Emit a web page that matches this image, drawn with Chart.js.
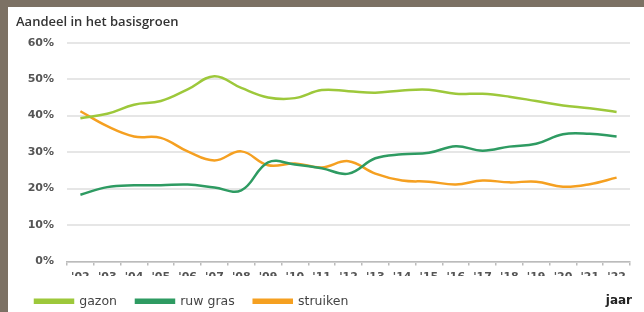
<!DOCTYPE html>
<html>
<head>
<meta charset="utf-8">
<script src="https://cdn.jsdelivr.net/npm/chart.js@4.4.1/dist/chart.umd.min.js"></script>
<style>
  html, body { margin: 0; padding: 0; }
  body { width: 644px; height: 312px; background: #7c7164; overflow: hidden; position: relative; }
  #box { position: absolute; left: 8px; top: 7px; width: 636px; height: 305px; background: #fff; }
</style>
</head>
<body>
<div id="box"><canvas id="lineChart" width="636" height="305"></canvas></div>
<script>
// Aandeel in het basisgroen, 2002 - 2022
var years = ["'02", "'03", "'04", "'05", "'06", "'07", "'08", "'09", "'10", "'11", "'12",
             "'13", "'14", "'15", "'16", "'17", "'18", "'19", "'20", "'21", "'22"];
var gazon    = [39.3, 40.5, 43.0, 44.0, 47.2, 50.8, 47.6, 45.0, 44.8, 47.0, 46.7, 46.3, 46.9, 47.1, 46.0, 46.0, 45.2, 44.0, 42.8, 42.0, 41.0];
var ruwGras  = [18.3, 20.4, 20.9, 20.9, 21.1, 20.3, 19.5, 27.2, 26.6, 25.6, 24.1, 28.3, 29.4, 29.8, 31.6, 30.4, 31.5, 32.3, 34.9, 35.0, 34.3];
var struiken = [41.2, 37.1, 34.3, 33.9, 30.2, 27.7, 30.2, 26.4, 26.9, 25.8, 27.5, 24.1, 22.2, 21.9, 21.1, 22.2, 21.7, 21.9, 20.5, 21.2, 23.0];
var yTicks   = [0, 10, 20, 30, 40, 50, 60];

var tickFont = { family: "'DejaVu Sans', sans-serif", size: 11, weight: 'bold' };

// "jaar" label next to the legend
var yearLabel = {
    id: 'yearLabel',
    afterDraw: function(chart) {
        var ctx = chart.ctx;
        ctx.save();
        ctx.font = "bold 12px 'DejaVu Sans', sans-serif";
        ctx.fillStyle = '#222';
        ctx.textAlign = 'right';
        ctx.textBaseline = 'middle';
        ctx.fillText('jaar', chart.chartArea.right + 2, 294);
        ctx.restore();
    }
};

var ctx = document.getElementById('lineChart').getContext('2d');
var lineChart = new Chart(ctx, {
    type: 'line',
    data: {
        labels: years,
        datasets: [{
            label: 'gazon',
            data: gazon,
            borderColor: '#9dc83b',
            backgroundColor: '#9dc83b'
        }, {
            label: 'ruw gras',
            data: ruwGras,
            borderColor: '#2e9b62',
            backgroundColor: '#2e9b62'
        }, {
            label: 'struiken',
            data: struiken,
            borderColor: '#f5a021',
            backgroundColor: '#f5a021'
        }]
    },
    plugins: [yearLabel],
    options: {
        responsive: false,
        animation: false,
        layout: { padding: { left: 8, right: 14, top: 0, bottom: -5.5 } },
        elements: {
            line: { borderWidth: 2.5, tension: 0.4, fill: false },
            point: { radius: 0 }
        },
        plugins: {
            tooltip: { enabled: false },
            title: {
                display: true,
                text: 'Aandeel in het basisgroen',
                align: 'start',
                color: '#333',
                font: { family: "'Open Sans', sans-serif", size: 13, weight: '600' },
                padding: { top: 7.2, bottom: 12.9 }
            },
            legend: {
                position: 'bottom',
                align: 'start',
                labels: {
                    boxWidth: 38,
                    boxHeight: 3,
                    padding: 19,
                    color: '#444',
                    font: { family: "'DejaVu Sans', sans-serif", size: 12.5 }
                }
            }
        },
        scales: {
            x: {
                offset: true,
                afterFit: function(scale) { scale.height = 14.5; },
                grid: { offset: true, drawOnChartArea: false, tickLength: 4, color: '#bbb', lineWidth: 1.5 },
                border: { color: '#bbb', width: 1.5 },
                ticks: { color: '#555', font: tickFont, padding: 5, maxRotation: 0, autoSkip: false }
            },
            y: {
                min: 0,
                max: 60,
                afterFit: function(scale) { scale.width = 51; },
                afterBuildTicks: function(scale) {
                    scale.ticks = yTicks.map(function(v) { return { value: v }; });
                },
                grid: { color: '#e6e6e6', lineWidth: 2, drawTicks: false },
                border: { display: false },
                ticks: {
                    color: '#555',
                    font: tickFont,
                    padding: 13,
                    callback: function(v) { return v + '%'; }
                }
            }
        }
    }
});
</script>
</body>
</html>
